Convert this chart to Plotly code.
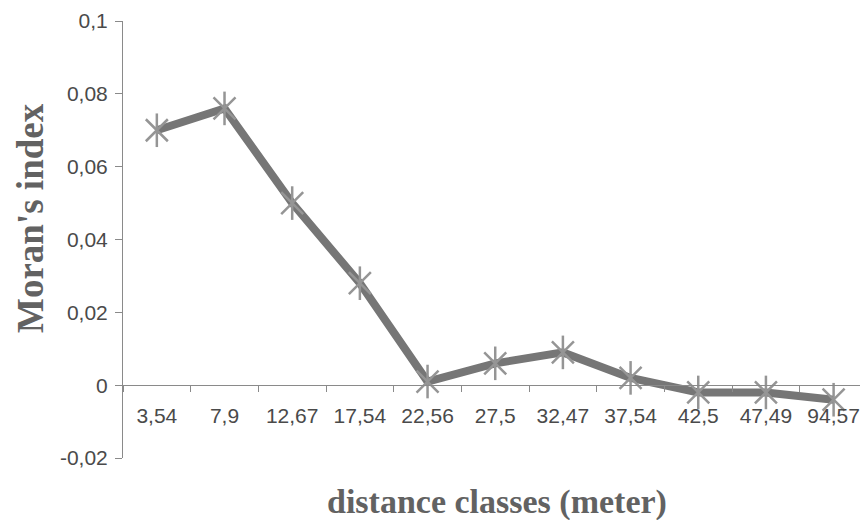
import plotly.graph_objects as go

categories = ["3,54", "7,9", "12,67", "17,54", "22,56", "27,5", "32,47", "37,54", "42,5", "47,49", "94,57"]
morans_i = [0.070, 0.076, 0.050, 0.028, 0.001, 0.006, 0.009, 0.002, -0.002, -0.002, -0.004]
y_ticks = [-0.02, 0, 0.02, 0.04, 0.06, 0.08, 0.1]
y_tick_labels = ["-0,02", "0", "0,02", "0,04", "0,06", "0,08", "0,1"]

line_col = "#767676"
mark_col = "#959595"

fig = go.Figure()
fig.add_trace(go.Scatter(
    x=categories, y=morans_i, mode="lines",
    line=dict(color=line_col, width=8), hoverinfo="skip", showlegend=False))
fig.add_trace(go.Scatter(
    x=categories, y=morans_i, mode="markers",
    marker=dict(symbol="x-thin-open", size=22, color=mark_col, line=dict(color=mark_col, width=2.5)),
    showlegend=False))
fig.add_trace(go.Scatter(
    x=categories, y=morans_i, mode="markers",
    marker=dict(symbol="line-ns-open", size=24, color=mark_col, line=dict(color=mark_col, width=2.5)),
    showlegend=False))

fig.update_layout(
    width=860, height=520,
    margin=dict(l=123, r=0, t=21, b=62),
    paper_bgcolor="white", plot_bgcolor="white",
    font=dict(family="Liberation Sans, Arial, sans-serif", size=21, color="#4a4a4a"),
    xaxis=dict(
        type="category", range=[-0.5, 10.39],
        anchor="free", position=2/12,
        showgrid=False, zeroline=False,
        showline=True, linecolor="#8a8a8a", linewidth=1,
        ticks="outside", ticklen=6, tickcolor="#8a8a8a", tickson="boundaries",
        ticklabelstandoff=12,
        tickfont=dict(size=21, color="#4a4a4a"),
    ),
    yaxis=dict(
        range=[-0.02, 0.1],
        tickvals=y_ticks, ticktext=y_tick_labels,
        showgrid=False, zeroline=False,
        showline=True, linecolor="#8a8a8a", linewidth=1,
        ticks="outside", ticklen=7, tickcolor="#8a8a8a",
        ticklabelstandoff=3,
        tickfont=dict(size=21, color="#4a4a4a"),
    ),
    annotations=[
        dict(text="<b>Moran's index</b>", x=30, y=218, xref="paper", yref="paper",
             showarrow=False, textangle=-90,
             font=dict(family="Liberation Serif, Times New Roman, serif", size=37, color="#626262")),
        dict(text="<b>distance classes (meter)</b>", x=497, y=502, xref="paper", yref="paper",
             showarrow=False,
             font=dict(family="Liberation Serif, Times New Roman, serif", size=34, color="#626262")),
    ],
)

# convert pixel-placed annotations to paper coordinates
pw, ph = 860 - 123 - 0, 520 - 21 - 62
for a in fig.layout.annotations:
    a.x = (a.x - 123) / pw
    a.y = (520 - 62 - a.y) / ph
    a.xanchor = "center"
    a.yanchor = "middle"

fig.write_html("out.html")
